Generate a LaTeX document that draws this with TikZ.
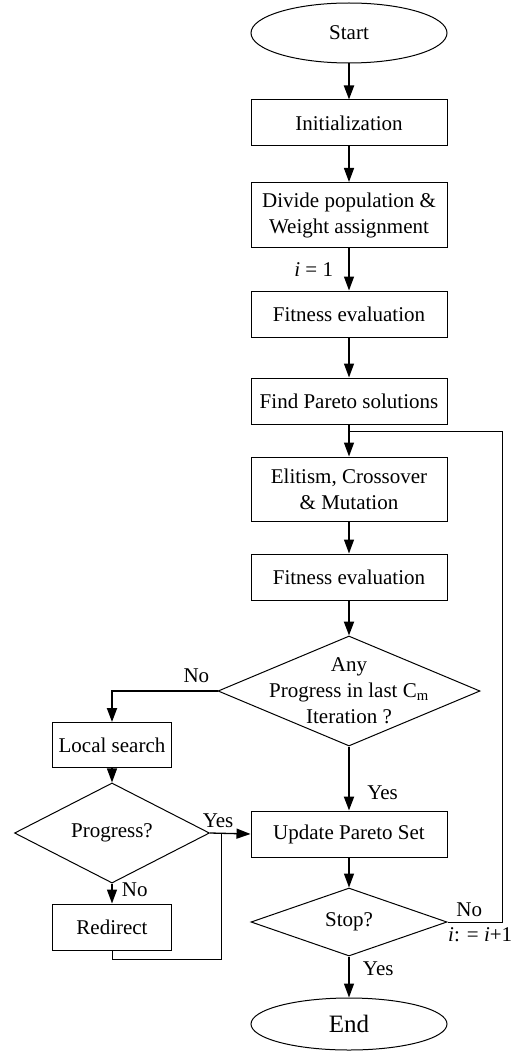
\documentclass[tikz,border=0pt]{standalone}
\usepackage{fontspec}
\setmainfont{Liberation Serif}
\usetikzlibrary{shapes.geometric,arrows.meta}
\tikzset{
  box/.style={draw, line width=1pt, minimum width=196pt, minimum height=46pt, align=center, inner sep=2pt},
  term/.style={draw, ellipse, line width=1pt, minimum width=196pt, minimum height=60pt},
  decide/.style={draw, diamond, line width=1pt, align=center, inner sep=0pt},
  arr/.style={-{Triangle[length=14pt,width=10pt]}, line width=1.3pt},
  tarr/.style={arr, line width=2pt},
  link/.style={line width=1pt},
}
\begin{document}
\begin{tikzpicture}[x=1pt, y=-1pt, font=\fontsize{21}{26}\selectfont]
  \useasboundingbox (0,0) rectangle (513,1051);
  % Nodos
  \node[term] (start) at (349, 33) {Start};
  \node[box] (init) at (349, 123) {Initialization};
  \node[box, minimum height=65pt] (divide) at (349, 215) {Divide population \&\\Weight assignment};
  \node[box] (fit1) at (349, 314) {Fitness evaluation};
  \node[box] (pareto) at (349, 401) {Find Pareto solutions};
  \node[box, minimum height=64pt] (elite) at (349, 489) {Elitism, Crossover\\\& Mutation};
  \node[box] (fit2) at (349, 577) {Fitness evaluation};
  \node[decide, minimum width=262pt, minimum height=110pt,
    label={[align=center]center:Any\\Progress in last C\textsubscript{m}\\Iteration ?}] (anyprog) at (349, 691) {};
  \node[box, minimum width=119pt, minimum height=45pt] (local) at (112, 745) {Local search};
  \node[decide, minimum width=195pt, minimum height=68pt] (prog) at (112, 833) {Progress?};
  \node[box, minimum width=119pt] (redirect) at (112, 927) {Redirect};
  \node[box] (update) at (349, 834) {Update Pareto Set};
  \node[decide, minimum width=196pt, minimum height=68pt] (stop) at (349, 922) {Stop?};
  \node[term, minimum height=52pt, font=\fontsize{25}{30}\selectfont] (end) at (349, 1024) {End};
  \coordinate (ret) at (502, 431);
  \coordinate (join) at (221, 833);

  % Flechas
  \draw[tarr] (start) -- (init);
  \draw[arr] (init) -- (divide);
  \draw[arr] (divide) -- (fit1) node[midway, left=12pt] {\textit{i} = 1};
  \draw[arr] (fit1) -- (pareto);
  \draw[arr] (pareto) -- (elite);
  \draw[arr] (elite) -- (fit2);
  \draw[tarr] (fit2) -- (anyprog);
  \draw[tarr] (anyprog.west) -| (local.north) node[pos=0.1, above=4pt] {No};
  \draw[tarr] (anyprog) -- (update) node[pos=0.72, right=14pt] {Yes};
  \draw[arr] (local) -- (prog);
  \draw[arr] (prog) -- (redirect) node[pos=0.3, right=6pt] {No};
  \draw[arr] (prog.east) -- (update.west) node[pos=0.2, above=2pt] {Yes};
  \draw[link] (redirect.south) -- ++(0, 9) -| (join);
  \draw[arr] (update) -- (stop);
  \draw[arr] (stop) -- (end) node[pos=0.3, right=10pt] {Yes};
  \draw[link] (stop.east) -- (stop.east -| ret) node[pos=0.4, above=1pt] {No}
    node[pos=0.6, below=2pt] {\textit{i}: = \textit{i}+1} -- (ret) -- (ret -| pareto);
\end{tikzpicture}
\end{document}
